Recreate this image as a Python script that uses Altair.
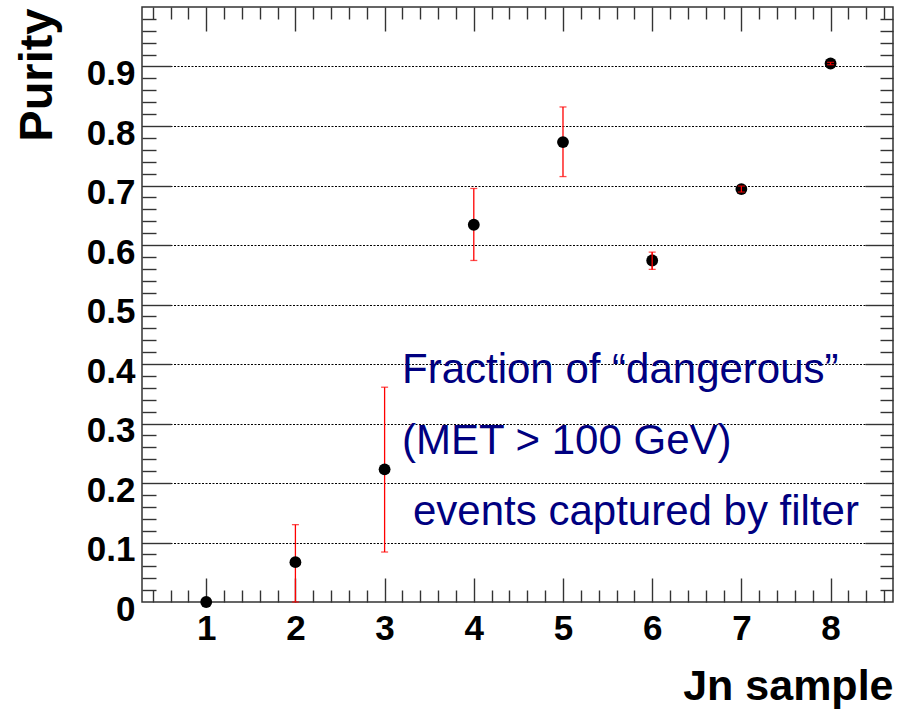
import altair as alt
import pandas as pd

# ---- data ----
SAMPLES = [1, 2, 3, 4, 5, 6, 7, 8]
PURITY = [0.0, 0.067, 0.223, 0.634, 0.773, 0.574, 0.694, 0.905]
ERR_LOW = [0.0, 0.0, 0.084, 0.574, 0.715, 0.559, 0.689, 0.903]
ERR_HIGH = [0.0, 0.130, 0.361, 0.695, 0.832, 0.588, 0.699, 0.907]

X_LABELS = [1, 2, 3, 4, 5, 6, 7, 8]
Y_LABELS = [0.0, 0.1, 0.2, 0.3, 0.4, 0.5, 0.6, 0.7, 0.8, 0.9]
X_MINOR = [round(0.4 + 0.2 * i, 1) for i in range(42) if (i + 2) % 5 != 0]
Y_MAJOR = Y_LABELS[1:]
Y_MINOR = [round(0.02 * i, 2) for i in range(1, 50) if i % 5 != 0]

ANNOTATION = ["Fraction of \u201cdangerous\u201d", "(MET > 100 GeV)", "events captured by filter"]

df = pd.DataFrame({"x": SAMPLES, "y": PURITY, "lo": ERR_LOW, "hi": ERR_HIGH})
note_top = pd.DataFrame({"t": ["\n".join(ANNOTATION[:2])]})
note_bottom = pd.DataFrame({"t": [ANNOTATION[2]]})

W, H = 751, 595
FONT = "Liberation Sans"
FRAME = "#333333"
RED = "#ff0000"
NAVY = "#000080"

xscale = alt.Scale(domain=[0.28, 8.70], nice=False, zero=False)
yscale = alt.Scale(domain=[0, 1], nice=False, zero=False)


def tick_axis(orient, offset, values, size):
    return alt.Axis(
        orient=orient, offset=offset, values=values, labels=False, domain=False,
        grid=False, ticks=True, tickColor=FRAME, tickWidth=1.4, tickSize=size,
        title=None,
    )


x_label_axis = alt.Axis(
    orient="bottom", values=X_LABELS, format="d",
    labelFont=FONT, labelFontWeight="bold", labelFontSize=35, labelColor="black",
    labelPadding=9, labelFlush=False, ticks=False, tickSize=0, domain=False, grid=False,
    title="Jn sample", titleFont=FONT, titleFontWeight="bold", titleFontSize=43,
    titleColor="black", titleAlign="right", titleAnchor="end",
    titleBaseline="alphabetic", titleX=W, titleY=97,
)

y_label_axis = alt.Axis(
    orient="left", values=Y_LABELS,
    labelExpr="datum.value == 0 ? '0' : format(datum.value, '.1f')",
    labelFont=FONT, labelFontWeight="bold", labelFontSize=35, labelColor="black",
    labelPadding=7, labelOffset=7, labelBaseline="middle", labelFlush=False,
    ticks=False, tickSize=0, domain=False,
    grid=True, gridColor="black", gridDash=[2, 1.5], gridWidth=1,
    gridOpacity={"condition": {"test": "datum.value == 0", "value": 0}, "value": 1},
    title="Purity", titleFont=FONT, titleFontWeight="bold", titleFontSize=47,
    titleColor="black", titleAngle=270, titleAlign="right",
    titleBaseline="alphabetic", titleX=-91, titleY=1,
)

base = alt.Chart(df)
has_err = "datum.hi > datum.lo"

rules = base.transform_filter(has_err).mark_rule(color=RED, strokeWidth=1.3).encode(
    x=alt.X("x:Q", scale=xscale, axis=x_label_axis),
    y=alt.Y("lo:Q", scale=yscale, axis=y_label_axis),
    y2="hi:Q",
)

# markers: carry the inward major ticks of the bottom and left frame
points = base.mark_circle(size=140, color="black", opacity=1).encode(
    x=alt.X("x:Q", scale=xscale, axis=tick_axis("top", -H, X_LABELS, 24)),
    y=alt.Y("y:Q", scale=yscale, axis=tick_axis("right", -W, Y_MAJOR, 29)),
)

# lower caps: inward minor ticks of the bottom and left frame
caps_lo = base.transform_filter(has_err).mark_tick(
    color=RED, orient="horizontal", size=7, thickness=1.3
).encode(
    x=alt.X("x:Q", scale=xscale, axis=tick_axis("top", -H, X_MINOR, 12)),
    y=alt.Y("lo:Q", scale=yscale, axis=tick_axis("right", -W, Y_MINOR, 14)),
)

# upper caps: inward major ticks of the top and right frame
caps_hi = base.transform_filter(has_err).mark_tick(
    color=RED, orient="horizontal", size=7, thickness=1.3
).encode(
    x=alt.X("x:Q", scale=xscale, axis=tick_axis("bottom", -H, X_LABELS, 24)),
    y=alt.Y("hi:Q", scale=yscale, axis=tick_axis("left", -W, Y_MAJOR, 28)),
)

# small error bars stay visible over the marker: inward minor ticks of top/right frame
inner = base.transform_filter(has_err + " && datum.hi - datum.lo < 0.04").mark_rule(
    color=RED, strokeWidth=1.3
).encode(
    x=alt.X("x:Q", scale=xscale, axis=tick_axis("bottom", -H, X_MINOR, 12)),
    y=alt.Y("lo:Q", scale=yscale, axis=tick_axis("left", -W, Y_MINOR, 13)),
    y2="hi:Q",
)

note1 = alt.Chart(note_top).mark_text(
    font=FONT, fontSize=42, color=NAVY, align="left", baseline="alphabetic",
    lineBreak="\n", lineHeight=71,
).encode(text="t:N", x=alt.value(260), y=alt.value(376))

note2 = alt.Chart(note_bottom).mark_text(
    font=FONT, fontSize=42, color=NAVY, align="left", baseline="alphabetic",
).encode(text="t:N", x=alt.value(271), y=alt.value(518))

chart = (
    alt.layer(rules, points, caps_lo, caps_hi, inner, note1, note2)
    .resolve_axis(x="independent", y="independent")
    .properties(
        width=W, height=H,
        autosize=alt.AutoSizeParams(type="none"),
        padding={"left": 142, "top": 7, "right": 15, "bottom": 111},
        background="white",
    )
    .configure_view(stroke=FRAME, strokeWidth=1.5)
)

chart.save("out.html", embed_options={"renderer": "svg", "actions": False})
